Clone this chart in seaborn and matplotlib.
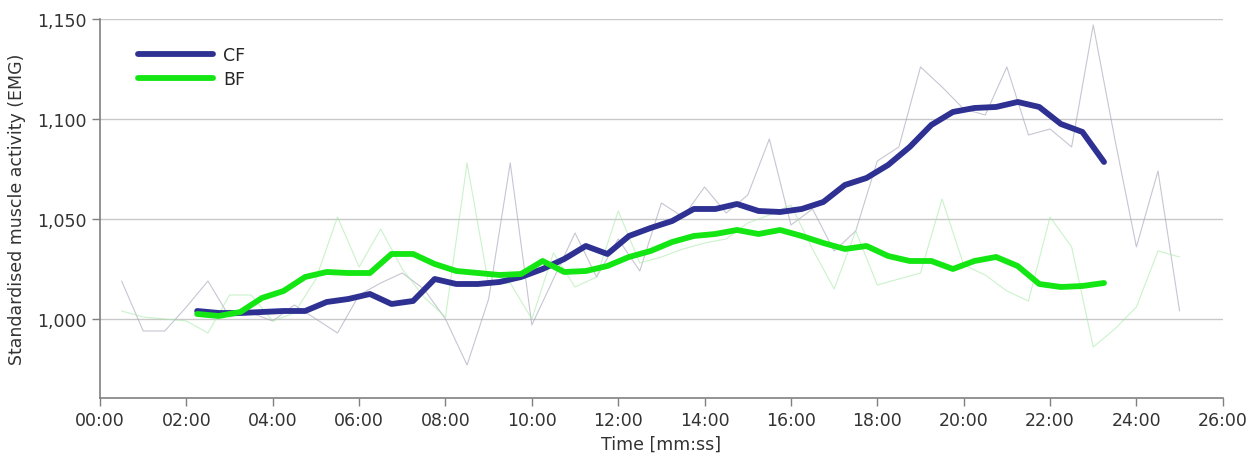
import matplotlib
matplotlib.use("Agg")
import matplotlib.pyplot as plt
import seaborn as sns
from matplotlib.ticker import FuncFormatter

# raw EMG samples, every 30 s (minutes)
raw_time = [0.5, 1.0, 1.5, 2.0, 2.5, 3.0, 3.5, 4.0, 4.5, 5.0,
            5.5, 6.0, 6.5, 7.0, 7.5, 8.0, 8.5, 9.0, 9.5, 10.0,
            10.5, 11.0, 11.5, 12.0, 12.5, 13.0, 13.5, 14.0, 14.5, 15.0,
            15.5, 16.0, 16.5, 17.0, 17.5, 18.0, 18.5, 19.0, 19.5, 20.0,
            20.5, 21.0, 21.5, 22.0, 22.5, 23.0, 23.5, 24.0, 24.5, 25.0]
cf_raw = [1.019, 0.994, 0.994, 1.006, 1.019, 1.001, 1.003, 0.999, 1.007, 1.000,
          0.993, 1.012, 1.018, 1.023, 1.015, 1.000, 0.977, 1.010, 1.078, 0.997,
          1.020, 1.043, 1.021, 1.040, 1.024, 1.058, 1.051, 1.066, 1.053, 1.062,
          1.090, 1.047, 1.055, 1.034, 1.044, 1.079, 1.086, 1.126, 1.116, 1.105,
          1.102, 1.126, 1.092, 1.095, 1.086, 1.147, 1.090, 1.036, 1.074, 1.004]
bf_raw = [1.004, 1.001, 1.000, 0.999, 0.993, 1.012, 1.012, 0.999, 1.003, 1.020,
          1.051, 1.026, 1.045, 1.025, 1.011, 1.001, 1.078, 1.017, 1.018, 1.000,
          1.033, 1.016, 1.021, 1.054, 1.028, 1.031, 1.035, 1.038, 1.040, 1.048,
          1.052, 1.057, 1.035, 1.015, 1.044, 1.017, 1.020, 1.023, 1.060, 1.027,
          1.022, 1.014, 1.009, 1.051, 1.036, 0.986, 0.995, 1.006, 1.034, 1.031]

# smoothed curves
smooth_time = [2.25, 2.75, 3.25, 3.75, 4.25, 4.75, 5.25, 5.75, 6.25, 6.75,
               7.25, 7.75, 8.25, 8.75, 9.25, 9.75, 10.25, 10.75, 11.25, 11.75,
               12.25, 12.75, 13.25, 13.75, 14.25, 14.75, 15.25, 15.75, 16.25, 16.75,
               17.25, 17.75, 18.25, 18.75, 19.25, 19.75, 20.25, 20.75, 21.25, 21.75,
               22.25, 22.75, 23.25]
cf_smooth = [1.004, 1.003, 1.003, 1.0035, 1.004, 1.004, 1.0085, 1.010, 1.0125, 1.0075,
             1.009, 1.020, 1.0175, 1.0175, 1.0185, 1.021, 1.025, 1.030, 1.0365, 1.0325,
             1.0415, 1.0455, 1.049, 1.055, 1.055, 1.0575, 1.054, 1.0535, 1.055, 1.0585,
             1.067, 1.0705, 1.077, 1.086, 1.097, 1.1035, 1.1055, 1.106, 1.1085, 1.106,
             1.0975, 1.0935, 1.0785]
bf_smooth = [1.0025, 1.0015, 1.0035, 1.0105, 1.014, 1.021, 1.0235, 1.023, 1.023, 1.0325,
             1.0325, 1.0275, 1.024, 1.023, 1.022, 1.0225, 1.029, 1.0235, 1.024, 1.0265,
             1.031, 1.034, 1.0385, 1.0415, 1.0425, 1.0445, 1.0425, 1.0445, 1.0415, 1.038,
             1.035, 1.0365, 1.0315, 1.029, 1.029, 1.025, 1.029, 1.031, 1.0265, 1.0175,
             1.016, 1.0165, 1.018]

CF_COLOR = "#2e3192"
BF_COLOR = "#14e614"

sns.set_style("whitegrid", {"grid.color": "#c8c8c8", "axes.edgecolor": "#808080",
                            "xtick.bottom": True, "ytick.left": True})
plt.rcParams["font.family"] = ["DejaVu Sans"]
plt.rcParams["font.size"] = 12.5

fig = plt.figure(figsize=(12.58, 4.6), dpi=100)
ax = fig.add_axes([0.0795, 0.1326, 0.8925, 0.824])

# raw traces (faint)
sns.lineplot(x=raw_time, y=cf_raw, ax=ax, color="#a8a8bc", linewidth=0.8, alpha=0.65)
sns.lineplot(x=raw_time, y=bf_raw, ax=ax, color="#a8eaa8", linewidth=0.8, alpha=0.6)

# smoothed traces
sns.lineplot(x=smooth_time, y=cf_smooth, ax=ax, color=CF_COLOR, linewidth=4.2, label="CF",
             solid_capstyle="round", solid_joinstyle="round")
sns.lineplot(x=smooth_time, y=bf_smooth, ax=ax, color=BF_COLOR, linewidth=4.2, label="BF",
             solid_capstyle="round", solid_joinstyle="round")

ax.set_xlim(0, 26)
ax.set_ylim(0.9605, 1.150)
ax.set_xticks(range(0, 27, 2))
ax.set_yticks([1.000, 1.050, 1.100, 1.150])
ax.xaxis.set_major_formatter(FuncFormatter(lambda v, p: f"{int(v):02d}:00"))
ax.yaxis.set_major_formatter(FuncFormatter(lambda v, p: f"{v:.3f}".replace(".", ",")))
ax.grid(axis="x", visible=False)
ax.grid(axis="y", color="#c8c8c8", linewidth=1)
ax.tick_params(axis="both", colors="#808080", labelcolor="#333333", length=6,
               width=1, labelsize=12.5, direction="out")

sns.despine(ax=ax)
for s in ("left", "bottom"):
    ax.spines[s].set_color("#808080")
    ax.spines[s].set_linewidth(1.2)

ax.set_xlabel("Time [mm:ss]", fontsize=12.5, color="#333333")
ax.set_ylabel("Standardised muscle activity (EMG)", fontsize=12.5, color="#333333",
              labelpad=8)

ax.legend(loc="upper left", bbox_to_anchor=(0.02, 0.97), frameon=False,
          handlelength=4.3, fontsize=12.5, labelspacing=0.35, handletextpad=0.6)

fig.savefig("out.png", dpi=100)
